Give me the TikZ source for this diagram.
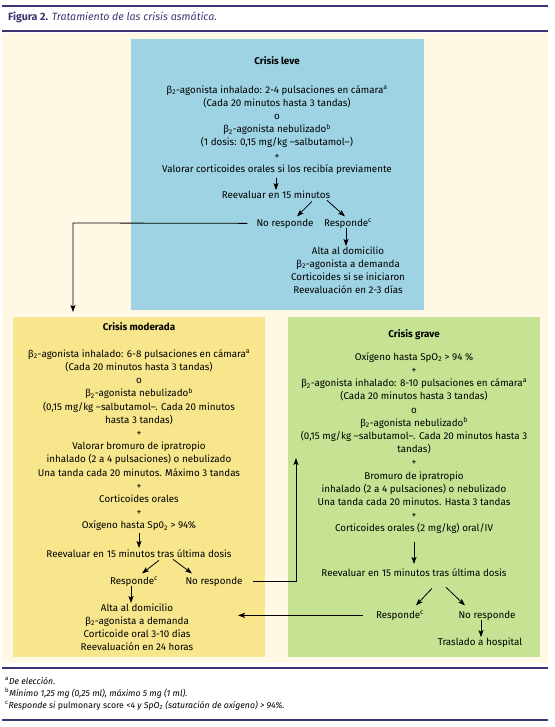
\documentclass[tikz,border=0pt]{standalone}
\usepackage{fontspec}
\setmainfont{Fira Sans}
\usetikzlibrary{arrows.meta,calc}
\definecolor{navy}{HTML}{3A3675}
\definecolor{cream}{HTML}{FEF8E4}
\definecolor{bluebox}{HTML}{9DD3E3}
\definecolor{yelbox}{HTML}{F7E68C}
\definecolor{grnbox}{HTML}{C5E393}
\newcommand\fl{\rule{0pt}{8pt}}
\newcommand\betatwo{β\textsubscript{2}}
\begin{document}
\begin{tikzpicture}[x=1pt,y=-1pt,
  txt/.style={inner sep=0pt, align=center, font=\fontsize{9.8}{13.2}\selectfont},
  ttl/.style={inner sep=0pt, font=\fontsize{9.8}{13}\selectfont\bfseries},
  arr/.style={-{Stealth[length=7pt,width=5pt,inset=1.5pt]}, line width=0.8pt},
  rulez/.style={navy, line width=1.3pt},
  box/.style={inner sep=0pt, anchor=north west},
  fn/.style={inner sep=0pt, anchor=base west, font=\fontsize{8.7}{10}\selectfont}]
\useasboundingbox (0,0) rectangle (554,727);
\fill[white] (0,0) rectangle (554,727);
\draw[rulez] (2,6) -- (548,6);
\node[anchor=base west, inner sep=0pt, font=\fontsize{10.6}{12}\selectfont, text=navy] (title) at (8,21) {\textbf{Figura 2.} \textit{Tratamiento de las crisis asmática.}};
\draw[rulez] (2,31) -- (548,31);
\fill[cream] (2,33) rectangle (548,663);
\node[box, fill=bluebox, minimum width=293pt, minimum height=271pt] (leve) at (131,39) {};
\node[box, fill=yelbox, minimum width=252pt, minimum height=340pt] (mod) at (13,317) {};
\node[box, fill=grnbox, minimum width=252pt, minimum height=340pt] (grave) at (288,317) {};
% Crisis leve
\node[ttl, anchor=base] (lt) at (277,65) {Crisis leve};
\node[txt, anchor=north] (l1) at (277,85) {\fl\betatwo-agonista inhalado: 2-4 pulsaciones en cámara\textsuperscript{a}\\ (Cada 20 minutos hasta 3 tandas)\\ o\\ \betatwo-agonista nebulizado\textsuperscript{b}\\ (1 dosis: 0,15 mg/kg –salbutamol–)\\ +\\ Valorar corticoides orales si los recibía previamente};
\node[txt, anchor=base] (l2) at (276,199) {Reevaluar en 15 minutos};
\node[txt, anchor=base] (l3) at (285,226) {No responde};
\node[txt, anchor=base] (l4) at (348,226) {Responde\textsuperscript{c}};
\node[txt, anchor=north] (l5) at (348,246) {\fl Alta al domicilio\\ \betatwo-agonista a demanda\\ Corticoides si se iniciaron\\ Reevaluación en 2-3 días};
\draw[arr] ([yshift=-3pt]l1.south -| l2.north) -- ([yshift=1pt]l2.north);
\draw[arr] ($(l2.south)+(36,2)$) -- ($(l3.north)+(12,-2)$);
\draw[arr] ($(l2.south)+(51,1)$) -- ($(l4.north)+(-3,-2)$);
\draw[arr] ([xshift=-2pt]l4.south) -- ([xshift=-2pt]l4.south |- l5.north);
\coordinate (c1) at (73,223);
\draw[arr, shorten >=5pt] ($(l3.west)+(-9,0)$) -- (c1) -- (c1 |- mod.north);
% Crisis moderada
\node[ttl, anchor=base] (mt) at (139,330) {Crisis moderada};
\node[txt, anchor=north] (m1) at (139,349) {\fl\betatwo-agonista inhalado: 6-8 pulsaciones en cámara\textsuperscript{a}\\ (Cada 20 minutos hasta 3 tandas)\\ o\\ \betatwo-agonista nebulizado\textsuperscript{b}\\ (0,15 mg/kg –salbutamol–. Cada 20 minutos\\ hasta 3 tandas)\\ +\\ Valorar bromuro de ipratropio\\ inhalado (2 a 4 pulsaciones) o nebulizado\\ Una tanda cada 20 minutos. Máximo 3 tandas\\ +\\ Corticoides orales\\ +\\ Oxígeno hasta Sp0\textsubscript{2} > 94\%};
\node[txt, anchor=base] (m2) at (139,557) {Reevaluar en 15 minutos tras última dosis};
\node[txt, anchor=base] (m3) at (134,584) {Responde\textsuperscript{c}};
\node[txt, anchor=base] (m4) at (214,584) {No responde};
\node[txt, anchor=north] (m5) at (137,603) {\fl Alta al domicilio\\ \betatwo-agonista a demanda\\ Corticoide oral 3-10 días\\ Reevaluación en 24 horas};
\draw[arr] ([yshift=-2pt]m1.south) -- ([yshift=1pt]m2.north);
\draw[arr] ($(m2.south)+(20,3)$) -- ($(m3.north)+(8,-3)$);
\draw[arr] ($(m2.south)+(34,2)$) -- ($(m4.north)+(-22,-3)$);
\draw[arr] ([xshift=-3pt]m3.south) -- ([xshift=-3pt]m3.south |- m5.north);
\coordinate (c2) at (296,458);
\draw[arr] ($(m4.east)+(10,0)$) -| (c2);
% Crisis grave
\node[ttl, anchor=base] (gt) at (414,337) {Crisis grave};
\node[txt, anchor=north] (g1) at (414,352) {\fl Oxígeno hasta SpO\textsubscript{2} > 94 \%\\ +\\ \betatwo-agonista inhalado: 8-10 pulsaciones en cámara\textsuperscript{a}\\ (Cada 20 minutos hasta 3 tandas)\\ o\\ \betatwo-agonista nebulizado\textsuperscript{b}\\ (0,15 mg/kg –salbutamol–. Cada 20 minutos hasta 3\\ tandas)\\ +\\ Bromuro de ipratropio\\ inhalado (2 a 4 pulsaciones) o nebulizado\\ Una tanda cada 20 minutos. Hasta 3 tandas\\ +\\ Corticoides orales (2 mg/kg) oral/IV};
\node[txt, anchor=base] (g2) at (414,576) {Reevaluar en 15 minutos tras última dosis};
\node[txt, anchor=base] (g3) at (400,618) {Responde\textsuperscript{c}};
\node[txt, anchor=base] (g4) at (487,618) {No responde};
\node[txt, anchor=base] (g5) at (480,645) {Traslado a hospital};
\draw[arr] ([yshift=-8pt]g1.south) -- ([yshift=4pt]g2.north);
\draw[arr] ($(g2.south)+(18,12)$) -- ($(g3.north)+(16,-5)$);
\draw[arr] ($(g2.south)+(32,11)$) -- ($(g4.north)+(-22,-5)$);
\draw[arr] ([xshift=-6pt]g4.south) -- ([xshift=-6pt]g4.south |- g5.north);
\coordinate (c3) at (238,614);
\draw[arr] ($(g3.west)+(-13,0)$) -- (c3 |- g3.west);
% footnotes
\draw[rulez] (2,668) -- (548,668);
\node[fn] (f1) at (5,684) {\textsuperscript{a}\textit{De elección.}};
\node[fn] (f2) at (5,696) {\textsuperscript{b}\textit{Mínimo 1,25 mg (0,25 ml), máximo 5 mg (1 ml).}};
\node[fn] (f3) at (5,708) {\textsuperscript{c}\textit{Responde si} pulmonary score \textit{<4 y SpO\textsubscript{2} (saturación de oxígeno) > 94\%.}};
\draw[rulez] (2,720) -- (548,720);
\end{tikzpicture}
\end{document}
